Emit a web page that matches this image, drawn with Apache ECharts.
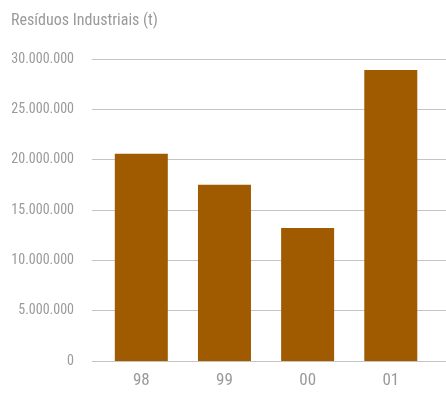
<!DOCTYPE html>
<html><head><meta charset="utf-8">
<script src="https://cdn.jsdelivr.net/npm/echarts@6/dist/echarts.min.js"></script>
<style>html,body{margin:0;padding:0;background:#fff}#c{width:446px;height:397px}</style>
</head><body><div id="c"></div>
<script>
var categories = ['98', '99', '00', '01'];
var values = [20600000, 17500000, 13200000, 28900000];
var yTicks = [0, 5000000, 10000000, 15000000, 20000000, 25000000, 30000000];
var title = 'Resíduos Industriais (t)';

var FONT = '"Roboto Condensed","Liberation Sans Narrow","Arial Narrow",Roboto,sans-serif';
function fmt(v) {
  return String(v).replace(/\B(?=(\d{3})+(?!\d))/g, '.');
}
var chart = echarts.init(document.getElementById('c'));
chart.setOption({
  animation: false,
  title: { text: title, left: 6, top: 8, textStyle: { color: '#9a9a9a', fontFamily: FONT, fontWeight: 'normal', fontSize: 16 } },
  grid: { left: 92, right: 0, top: 59, bottom: 36, containLabel: false },
  xAxis: {
    type: 'value', min: -0.593, max: 3.664,
    axisLine: { show: false }, axisTick: { show: false }, splitLine: { show: false },
    axisLabel: { customValues: [0, 1, 2, 3], formatter: function (v) { return categories[Math.round(v)]; },
      color: '#9a9a9a', fontFamily: FONT, fontSize: 17, margin: 11 }
  },
  yAxis: {
    type: 'value', min: 0, max: 30000000, interval: 5000000,
    axisLine: { show: false }, axisTick: { show: false },
    splitLine: { lineStyle: { color: '#c4c4c4', width: 1 } },
    axisLabel: { formatter: fmt, color: '#9a9a9a', fontFamily: FONT, fontSize: 14, margin: 18 }
  },
  series: [{
    type: 'bar', barWidth: 53,
    itemStyle: { color: '#A05A00' },
    data: values.map(function (v, i) { return [i, v]; })
  }]
});
</script></body></html>
